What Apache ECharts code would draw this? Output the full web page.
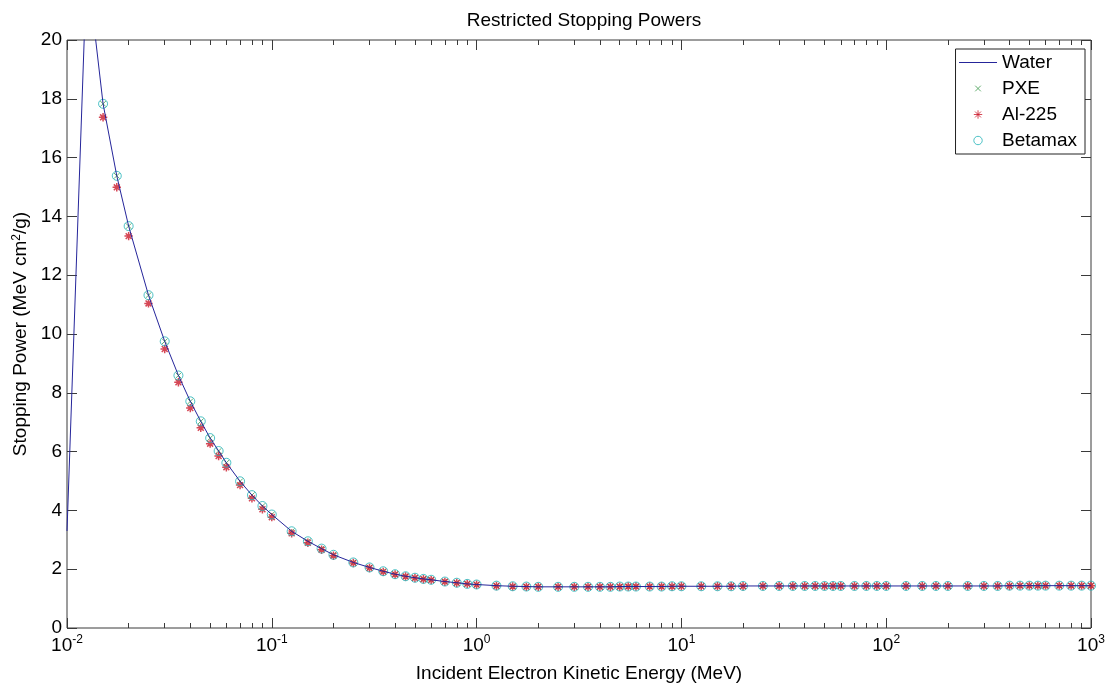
<!DOCTYPE html>
<html lang="en">
<head>
<meta charset="UTF-8">
<title>Restricted Stopping Powers</title>
<script src="https://cdn.jsdelivr.net/npm/echarts@6/dist/echarts.min.js"></script>
<style>html,body{margin:0;padding:0;background:#fff;}</style>
</head>
<body>
<div id="chart" style="width:1109px;height:688px;"></div>
<script>
// energy grid (MeV) used for the water curve
var energy = [
    0.01, 0.0125, 0.015, 0.0175, 0.02, 0.025, 0.03, 0.035, 0.04, 0.045, 0.05, 0.055, 0.06, 0.07, 0.08, 0.09,
    0.1, 0.125, 0.15, 0.175, 0.2, 0.25, 0.3, 0.35, 0.4, 0.45, 0.5, 0.55, 0.6, 0.7, 0.8, 0.9,
    1, 1.25, 1.5, 1.75, 2, 2.5, 3, 3.5, 4, 4.5, 5, 5.5, 6, 7, 8, 9,
    10, 12.5, 15, 17.5, 20, 25, 30, 35, 40, 45, 50, 55, 60, 70, 80, 90,
    100, 125, 150, 175, 200, 250, 300, 350, 400, 450, 500, 550, 600, 700, 800, 900, 1000
];
var water = [
    3.3, 22.6, 17.83, 15.38, 13.67, 11.32, 9.75, 8.59, 7.71, 7.03, 6.46, 6.02, 5.62, 4.99, 4.52, 4.15,
    3.86, 3.29, 2.95, 2.70, 2.49, 2.23, 2.06, 1.93, 1.83, 1.76, 1.71, 1.67, 1.64, 1.58, 1.54, 1.50,
    1.48, 1.44, 1.42, 1.41, 1.40, 1.40, 1.40, 1.40, 1.40, 1.40, 1.41, 1.41, 1.41, 1.41, 1.41, 1.42,
    1.42, 1.42, 1.42, 1.42, 1.43, 1.43, 1.43, 1.43, 1.43, 1.43, 1.43, 1.43, 1.43, 1.43, 1.43, 1.43,
    1.43, 1.43, 1.43, 1.43, 1.43, 1.43, 1.43, 1.43, 1.44, 1.44, 1.44, 1.44, 1.44, 1.44, 1.44, 1.44, 1.44
];
// the three materials are sampled from 0.015 MeV upward
var markerEnergy = energy.slice(2);
var pxe = [
    17.83, 15.38, 13.67, 11.32, 9.75, 8.59, 7.71, 7.03, 6.46, 6.02, 5.62, 4.99, 4.52, 4.15,
    3.86, 3.29, 2.95, 2.70, 2.49, 2.23, 2.06, 1.93, 1.83, 1.76, 1.71, 1.67, 1.64, 1.58, 1.54, 1.50,
    1.48, 1.44, 1.42, 1.41, 1.40, 1.40, 1.40, 1.40, 1.40, 1.40, 1.41, 1.41, 1.41, 1.41, 1.41, 1.42,
    1.42, 1.42, 1.42, 1.42, 1.43, 1.43, 1.43, 1.43, 1.43, 1.43, 1.43, 1.43, 1.43, 1.43, 1.43, 1.43,
    1.43, 1.43, 1.43, 1.43, 1.43, 1.43, 1.43, 1.43, 1.44, 1.44, 1.44, 1.44, 1.44, 1.44, 1.44, 1.44, 1.44
];
var al225 = [
    17.37, 14.99, 13.33, 11.04, 9.49, 8.36, 7.48, 6.81, 6.27, 5.85, 5.47, 4.86, 4.41, 4.04,
    3.77, 3.22, 2.90, 2.66, 2.46, 2.21, 2.04, 1.91, 1.82, 1.75, 1.70, 1.66, 1.63, 1.57, 1.53, 1.50,
    1.47, 1.43, 1.41, 1.40, 1.40, 1.40, 1.40, 1.40, 1.40, 1.40, 1.40, 1.41, 1.41, 1.41, 1.41, 1.41,
    1.42, 1.42, 1.42, 1.42, 1.42, 1.43, 1.43, 1.43, 1.43, 1.43, 1.43, 1.43, 1.43, 1.43, 1.43, 1.43,
    1.43, 1.43, 1.43, 1.43, 1.43, 1.43, 1.43, 1.43, 1.43, 1.44, 1.44, 1.44, 1.44, 1.44, 1.44, 1.44, 1.44
];
var betamax = [
    17.83, 15.38, 13.67, 11.32, 9.75, 8.59, 7.71, 7.03, 6.46, 6.02, 5.62, 4.99, 4.52, 4.15,
    3.86, 3.29, 2.95, 2.70, 2.49, 2.23, 2.06, 1.93, 1.83, 1.76, 1.71, 1.67, 1.64, 1.58, 1.54, 1.50,
    1.48, 1.44, 1.42, 1.41, 1.40, 1.40, 1.40, 1.40, 1.40, 1.40, 1.41, 1.41, 1.41, 1.41, 1.41, 1.42,
    1.42, 1.42, 1.42, 1.42, 1.43, 1.43, 1.43, 1.43, 1.43, 1.43, 1.43, 1.43, 1.43, 1.43, 1.43, 1.43,
    1.43, 1.43, 1.43, 1.43, 1.43, 1.43, 1.43, 1.43, 1.44, 1.44, 1.44, 1.44, 1.44, 1.44, 1.44, 1.44, 1.44
];
var xMajor = [0.01, 0.1, 1, 10, 100, 1000];
var xMinor = [];
for (var d = 0; d < xMajor.length - 1; d++) {
    for (var m = 2; m <= 9; m++) xMinor.push(+(xMajor[d] * m).toPrecision(3));
}

var FONT = '"Liberation Sans", Arial, sans-serif';
var AX = '#3a3a3a';

function pairs(xs, ys) {
    return xs.map(function (x, i) { return [x, ys[i]]; });
}

// marker shapes; the leading moves pad the box so the legend icon keeps the same size
var symX = 'path://M0,0M20,20M6,6L14,14M14,6L6,14';
var symStar = 'path://M0,0M20,20M10,4L10,16M4,10L16,10M5.8,5.8L14.2,14.2M14.2,5.8L5.8,14.2';
var symO = 'path://M0,0M20,20M16,10A6,6,0,1,1,4,10A6,6,0,1,1,16,10Z';

function xAxisOf(pos, ticks, len, labels) {
    return {
        type: 'log', logBase: 10, position: pos, min: 0.01, max: 1000,
        axisLine: { show: false },
        splitLine: { show: false },
        axisTick: { show: true, inside: true, length: len, customValues: ticks, lineStyle: { color: AX } },
        axisLabel: labels ? {
            show: true, customValues: xMajor, margin: 6,
            formatter: function (v) {
                return '{b|10}{s|' + Math.round(Math.log10(v)) + '}';
            },
            rich: {
                b: { fontSize: 19, fontFamily: FONT, color: '#000', lineHeight: 24 },
                s: { fontSize: 12, fontFamily: FONT, color: '#000', verticalAlign: 'top', lineHeight: 14 }
            }
        } : { show: false },
        name: labels ? 'Incident Electron Kinetic Energy (MeV)' : '',
        nameLocation: 'middle', nameGap: 36,
        nameTextStyle: { fontSize: 19, fontFamily: FONT, color: '#000' }
    };
}

function yAxisOf(pos, labels) {
    return {
        type: 'value', position: pos, min: 0, max: 20, interval: 2,
        axisLine: { show: false },
        splitLine: { show: false },
        axisTick: { show: true, inside: true, length: 10, lineStyle: { color: AX } },
        axisLabel: { show: labels, margin: 5, fontSize: 19, fontFamily: FONT, color: '#000' },
        name: labels ? 'Stopping Power (MeV cm{s|2}/g)' : '',
        nameLocation: 'middle', nameGap: 34, nameRotate: 90,
        nameTextStyle: {
            fontSize: 19, fontFamily: FONT, color: '#000',
            rich: { s: { fontSize: 12, fontFamily: FONT, color: '#000', verticalAlign: 'top' } }
        }
    };
}

var chart = echarts.init(document.getElementById('chart'), null, { renderer: 'canvas' });
chart.setOption({
    animation: false,
    backgroundColor: '#fff',
    title: {
        text: 'Restricted Stopping Powers', left: 579, top: 6, textAlign: 'center',
        textStyle: { fontSize: 19, fontWeight: 'normal', fontFamily: FONT, color: '#000' }
    },
    grid: { left: 67, right: 18, top: 40, bottom: 58, show: true, borderColor: AX, borderWidth: 1, backgroundColor: '#fff' },
    legend: {
        orient: 'vertical', right: 24, top: 49,
        backgroundColor: '#fff', borderColor: '#222', borderWidth: 1, borderRadius: 0,
        padding: [4, 8, 4, 3], itemGap: 7, itemWidth: 38, itemHeight: 14,
        itemStyle: { borderWidth: 1 }, lineStyle: { width: 1 },
        textStyle: { fontSize: 19, fontFamily: FONT, color: '#000' },
        data: [
            { name: 'Water', itemStyle: { opacity: 0 } },
            'PXE', 'Al-225', 'Betamax'
        ]
    },
    xAxis: [
        xAxisOf('bottom', xMajor, 10, true),
        xAxisOf('bottom', xMinor, 5, false),
        xAxisOf('top', xMajor, 10, false),
        xAxisOf('top', xMinor, 5, false)
    ],
    yAxis: [yAxisOf('left', true), yAxisOf('right', false)],
    series: [
        {
            name: 'Water', type: 'line', data: pairs(energy, water),
            symbol: 'none', showSymbol: false, clip: true,
            lineStyle: { color: '#25259a', width: 1 }, itemStyle: { color: '#25259a' }
        },
        {
            name: 'PXE', type: 'scatter', data: pairs(markerEnergy, pxe),
            symbol: symX, symbolSize: 14,
            itemStyle: { color: 'transparent', borderColor: '#3d9a4c', borderWidth: 1 }
        },
        {
            name: 'Al-225', type: 'scatter', data: pairs(markerEnergy, al225),
            symbol: symStar, symbolSize: 14,
            itemStyle: { color: 'transparent', borderColor: '#cc1a2c', borderWidth: 1.5 }
        },
        {
            name: 'Betamax', type: 'scatter', data: pairs(markerEnergy, betamax),
            symbol: symO, symbolSize: 15,
            itemStyle: { color: 'transparent', borderColor: '#22b3b8', borderWidth: 1 }
        }
    ]
});
</script>
</body>
</html>
